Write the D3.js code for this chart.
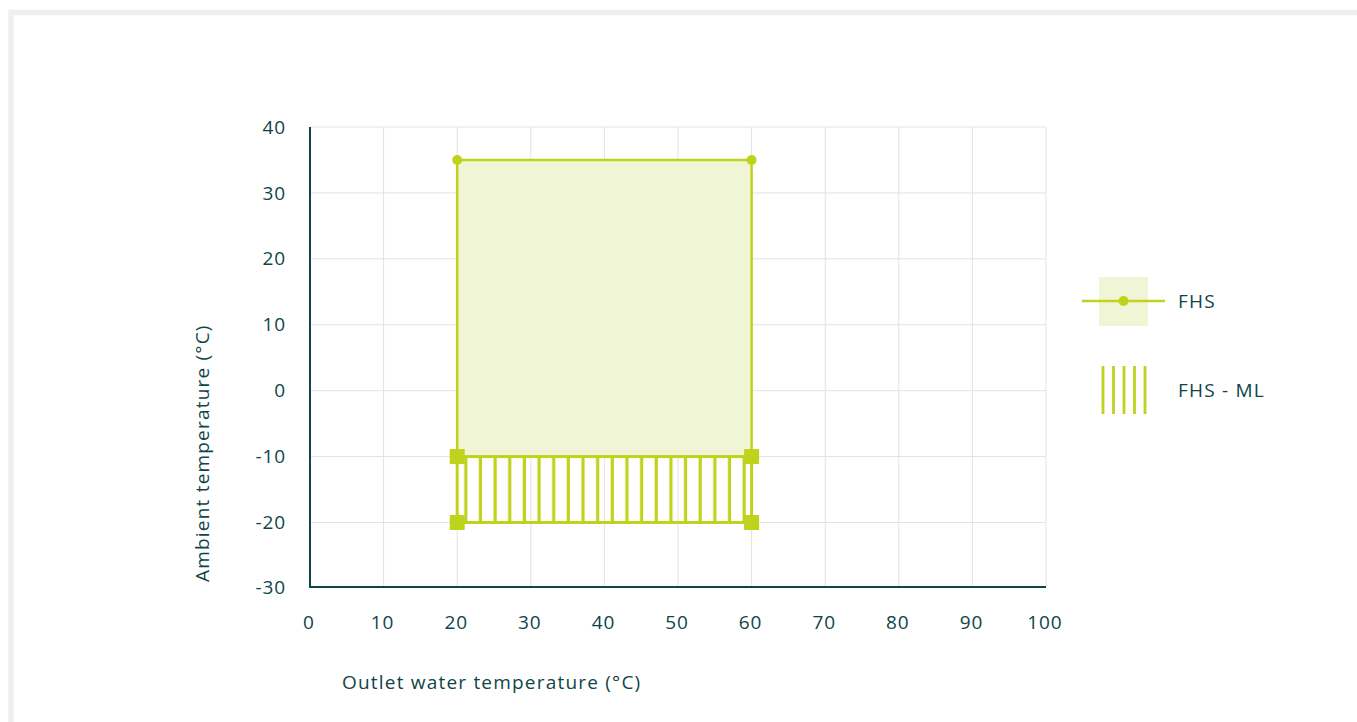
<!DOCTYPE html>
<html><head><meta charset="utf-8">
<script src="https://cdn.jsdelivr.net/npm/d3@7"></script>
<style>
html,body{margin:0;padding:0;background:#fff;overflow:hidden}
svg{display:block;font-family:"Open Sans",sans-serif}
</style></head>
<body><svg id="c" width="1357" height="722"></svg>
<script>
const xTicks = [0,10,20,30,40,50,60,70,80,90,100];
const yTicks = [-30,-20,-10,0,10,20,30,40];
const fhsX = [20, 20, 60, 60];
const fhsY = [-10, 35, 35, -10];
const fhsMarkX = [20, 60];
const fhsMarkY = [35, 35];
const mlX = [20, 60];
const mlY = [-20, -10];
const seriesNames = ["FHS", "FHS - ML"];
const xTitle = "Outlet water temperature (°C)";
const yTitle = "Ambient temperature (°C)";

const green = "#bfd21c", light = "#f0f5d5", ink = "#0f4548", grid = "#e3e3e3";
const svg = d3.select("#c");

// frame
svg.append("rect").attr("x",11).attr("y",12.5).attr("width",1400).attr("height",800)
  .attr("fill","none").attr("stroke","#efefef").attr("stroke-width",5.5);

const x = d3.scaleLinear().domain([0,100]).range([310,1046]);
const y = d3.scaleLinear().domain([-30,40]).range([588.4,127]);

const defs = svg.append("defs");
const pat = defs.append("pattern").attr("id","hatch").attr("patternUnits","userSpaceOnUse")
  .attr("width",14.65).attr("height",20).attr("x", x(20)-3.5);
pat.append("rect").attr("x",10.5).attr("y",0).attr("width",3.2).attr("height",20).attr("fill",green);

// grid
svg.append("g").selectAll("line").data(xTicks.filter(d=>d>0)).join("line")
  .attr("x1",d=>x(d)).attr("x2",d=>x(d)).attr("y1",y(40)).attr("y2",y(-30))
  .attr("stroke",grid).attr("stroke-width",1);
svg.append("g").selectAll("line").data(yTicks.filter(d=>d>-30)).join("line")
  .attr("x1",x(0)).attr("x2",x(100)).attr("y1",d=>y(d)).attr("y2",d=>y(d))
  .attr("stroke",grid).attr("stroke-width",1);

// FHS area
const pts = fhsX.map((d,i)=>[x(d), y(fhsY[i])]);
svg.append("path").attr("d", d3.line()(pts)).attr("fill",light).attr("stroke","none");
svg.append("path").attr("d", d3.line()(pts)).attr("fill","none").attr("stroke",green).attr("stroke-width",2.5);

// ML area
svg.append("rect").attr("x",x(mlX[0])).attr("y",y(mlY[1])).attr("width",x(mlX[1])-x(mlX[0]))
  .attr("height",y(mlY[0])-y(mlY[1])).attr("fill","url(#hatch)").attr("stroke",green).attr("stroke-width",3);

// markers
svg.append("g").selectAll("circle").data(fhsMarkX).join("circle")
  .attr("cx",d=>x(d)).attr("cy",(d,i)=>y(fhsMarkY[i])).attr("r",5).attr("fill",green);
const sq = [];
mlX.forEach(a=>mlY.forEach(b=>sq.push([a,b])));
svg.append("g").selectAll("rect").data(sq).join("rect")
  .attr("x",d=>x(d[0])-7.5).attr("y",d=>y(d[1])-7.5).attr("width",15).attr("height",15).attr("fill",green);

// axes
const axY = y(-30)-1.5;
svg.append("line").attr("x1",x(0)).attr("x2",x(0)).attr("y1",y(40)).attr("y2",axY+1)
  .attr("stroke",ink).attr("stroke-width",2);
svg.append("line").attr("x1",x(0)-1).attr("x2",x(100)).attr("y1",axY).attr("y2",axY)
  .attr("stroke",ink).attr("stroke-width",2);

const fs = {"font-size":19, "letter-spacing":"0.9px"};
svg.append("g").selectAll("text").data(yTicks).join("text")
  .attr("x",286).attr("y",d=>d===-30?axY:y(d)).attr("dy","0.35em").attr("text-anchor","end")
  .attr("font-size",19).attr("letter-spacing","0.9px").attr("fill",ink).text(d=>d);
svg.append("g").selectAll("text").data(xTicks).join("text")
  .attr("x",d=>x(d)-1).attr("y",622).attr("dy","0.35em").attr("text-anchor","middle")
  .attr("font-size",19).attr("letter-spacing","0.9px").attr("fill",ink).text(d=>d);

svg.append("text").attr("x",342).attr("y",682).attr("dy","0.35em").attr("font-size",19)
  .attr("letter-spacing","1.2px").attr("fill",ink).text(xTitle);
svg.append("text").attr("transform","translate(202,582) rotate(-90)").attr("dy","0.35em")
  .attr("font-size",19).attr("letter-spacing","1.2px").attr("fill",ink).text(yTitle);

// legend
const lg = svg.append("g");
lg.append("rect").attr("x",1099).attr("y",277).attr("width",49).attr("height",49).attr("fill",light);
lg.append("line").attr("x1",1082).attr("x2",1165).attr("y1",301).attr("y2",301).attr("stroke",green).attr("stroke-width",2.5);
lg.append("circle").attr("cx",1123.5).attr("cy",301).attr("r",5).attr("fill",green);
lg.append("text").attr("x",1178).attr("y",301).attr("dy","0.35em").attr("font-size",19)
  .attr("letter-spacing","1.2px").attr("fill",ink).text(seriesNames[0]);
lg.selectAll("line.h").data([0,1,2,3,4]).join("line").attr("class","h")
  .attr("x1",d=>1103+d*10.5).attr("x2",d=>1103+d*10.5).attr("y1",366).attr("y2",414)
  .attr("stroke",green).attr("stroke-width",2.8);
lg.append("text").attr("x",1178).attr("y",390).attr("dy","0.35em").attr("font-size",19)
  .attr("letter-spacing","1.2px").attr("fill",ink).text(seriesNames[1]);
</script></body></html>
